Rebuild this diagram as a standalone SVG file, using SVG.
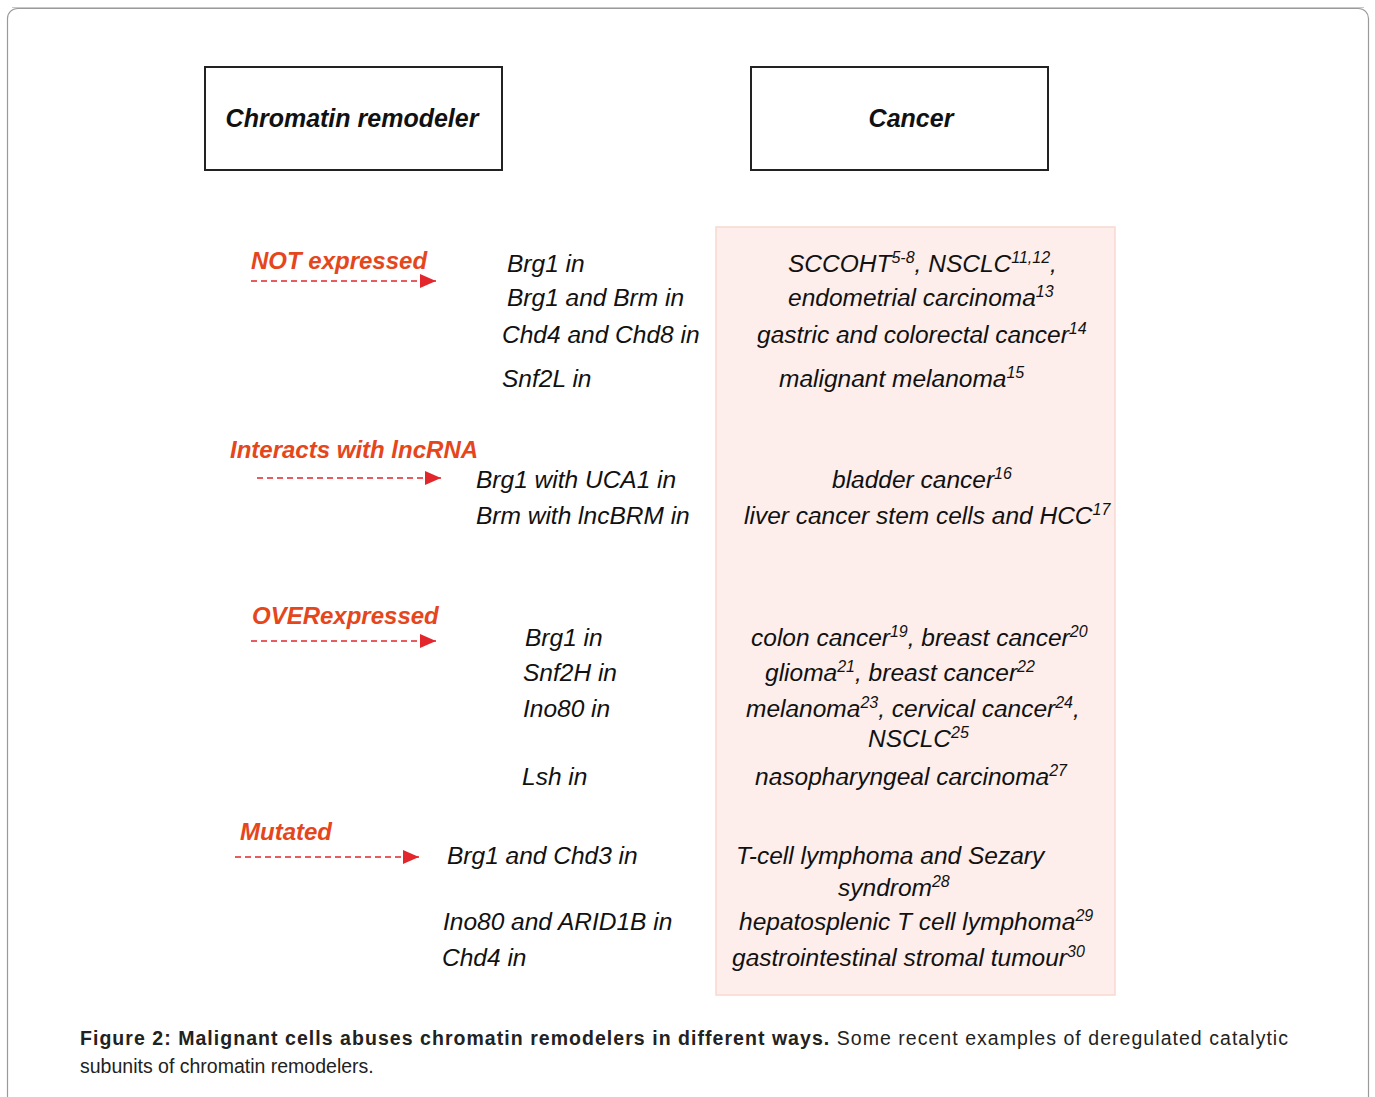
<svg xmlns="http://www.w3.org/2000/svg" width="1375" height="1097" viewBox="0 0 1375 1097">
<style>
.hdr{font-family:"Liberation Sans",Arial,sans-serif;font-size:25px;font-weight:bold;font-style:italic;fill:#111}
.lbl{font-family:"Liberation Sans",Arial,sans-serif;font-size:24px;font-weight:bold;font-style:italic;fill:#e5461c}
.t{font-family:"Liberation Sans",Arial,sans-serif;font-size:24.5px;font-style:italic;fill:#111}
.cap{font-family:"Liberation Sans",Arial,sans-serif;font-size:19.5px;fill:#222}
.box{fill:#fff;stroke:#222;stroke-width:2}
.arr{stroke:#e3262b;stroke-width:1.6;stroke-dasharray:6 4;fill:none}
.sup{font-size:16px}
</style>
<defs>
<marker id="ah2" viewBox="0 0 16 14" refX="16" refY="7" markerWidth="16" markerHeight="14" markerUnits="userSpaceOnUse" orient="auto">
<path d="M0,0 L16,7 L0,14 z" fill="#e3262b"/>
</marker>
</defs>
<rect x="0" y="0" width="1375" height="1097" fill="#fff"/>
<rect x="7.5" y="8.5" width="1361" height="1120" rx="10" fill="#fff" stroke="#9a9a9a" stroke-width="1.2"/>
<line x1="12" y1="7.5" x2="1364" y2="7.5" stroke="#c8c8c8" stroke-width="1"/>

<g id="header-remodeler">
<rect class="box" x="205" y="67" width="297" height="103"/>
<text class="hdr" x="352" y="127" text-anchor="middle">Chromatin remodeler</text>
</g>
<g id="header-cancer">
<rect class="box" x="751" y="67" width="297" height="103"/>
<text class="hdr" x="911" y="127" text-anchor="middle">Cancer</text>
</g>

<g id="cancer-panel">
<rect x="716" y="227" width="399" height="768" fill="#fdeeeb" stroke="#f8d9d1" stroke-width="1.5"/>
</g>

<g id="connectors">
<line class="arr" x1="251" y1="281" x2="436" y2="281" marker-end="url(#ah2)"/>
<line class="arr" x1="257" y1="478" x2="441" y2="478" marker-end="url(#ah2)"/>
<line class="arr" x1="251" y1="641" x2="436" y2="641" marker-end="url(#ah2)"/>
<line class="arr" x1="235" y1="857" x2="419" y2="857" marker-end="url(#ah2)"/>
</g>

<g id="not-expressed">
<text class="lbl" x="251" y="269">NOT expressed</text>
<text class="t" x="507" y="272">Brg1 in</text>
<text class="t" x="507" y="306">Brg1 and Brm in</text>
<text class="t" x="502" y="343">Chd4 and Chd8 in</text>
<text class="t" x="502" y="387">Snf2L in</text>
<text class="t" x="788" y="272">SCCOHT<tspan class="sup" dy="-9">5-8</tspan><tspan dy="9">, NSCLC</tspan><tspan class="sup" dy="-9">11,12</tspan><tspan dy="9">,</tspan></text>
<text class="t" x="788" y="306">endometrial carcinoma<tspan class="sup" dy="-9">13</tspan></text>
<text class="t" x="757" y="343">gastric and colorectal cancer<tspan class="sup" dy="-9">14</tspan></text>
<text class="t" x="779" y="387">malignant melanoma<tspan class="sup" dy="-9">15</tspan></text>
</g>

<g id="interacts-lncrna">
<text class="lbl" x="230" y="458">Interacts with lncRNA</text>
<text class="t" x="476" y="488">Brg1 with UCA1 in</text>
<text class="t" x="476" y="524">Brm with lncBRM in</text>
<text class="t" x="832" y="488">bladder cancer<tspan class="sup" dy="-9">16</tspan></text>
<text class="t" x="744" y="524">liver cancer stem cells and HCC<tspan class="sup" dy="-9">17</tspan></text>
</g>

<g id="overexpressed">
<text class="lbl" x="252" y="624">OVERexpressed</text>
<text class="t" x="525" y="646">Brg1 in</text>
<text class="t" x="523" y="681">Snf2H in</text>
<text class="t" x="523" y="717">Ino80 in</text>
<text class="t" x="522" y="785">Lsh in</text>
<text class="t" x="751" y="646">colon cancer<tspan class="sup" dy="-9">19</tspan><tspan dy="9">, breast cancer</tspan><tspan class="sup" dy="-9">20</tspan></text>
<text class="t" x="765" y="681">glioma<tspan class="sup" dy="-9">21</tspan><tspan dy="9">, breast cancer</tspan><tspan class="sup" dy="-9">22</tspan></text>
<text class="t" x="746" y="717">melanoma<tspan class="sup" dy="-9">23</tspan><tspan dy="9">, cervical cancer</tspan><tspan class="sup" dy="-9">24</tspan><tspan dy="9">,</tspan></text>
<text class="t" x="868" y="747">NSCLC<tspan class="sup" dy="-9">25</tspan></text>
<text class="t" x="755" y="785">nasopharyngeal carcinoma<tspan class="sup" dy="-9">27</tspan></text>
</g>

<g id="mutated">
<text class="lbl" x="240" y="840">Mutated</text>
<text class="t" x="447" y="864">Brg1 and Chd3 in</text>
<text class="t" x="443" y="930">Ino80 and ARID1B in</text>
<text class="t" x="442" y="966">Chd4 in</text>
<text class="t" x="736" y="864">T-cell lymphoma and Sezary</text>
<text class="t" x="838" y="896">syndrom<tspan class="sup" dy="-9">28</tspan></text>
<text class="t" x="739" y="930">hepatosplenic T cell lymphoma<tspan class="sup" dy="-9">29</tspan></text>
<text class="t" x="732" y="966">gastrointestinal stromal tumour<tspan class="sup" dy="-9">30</tspan></text>
</g>

<g id="caption">
<text class="cap" x="80" y="1045" textLength="1208" lengthAdjust="spacing"><tspan font-weight="bold">Figure 2: Malignant cells abuses chromatin remodelers in different ways.</tspan> Some recent examples of deregulated catalytic</text>
<text class="cap" x="80" y="1073">subunits of chromatin remodelers.</text>
</g>
</svg>
